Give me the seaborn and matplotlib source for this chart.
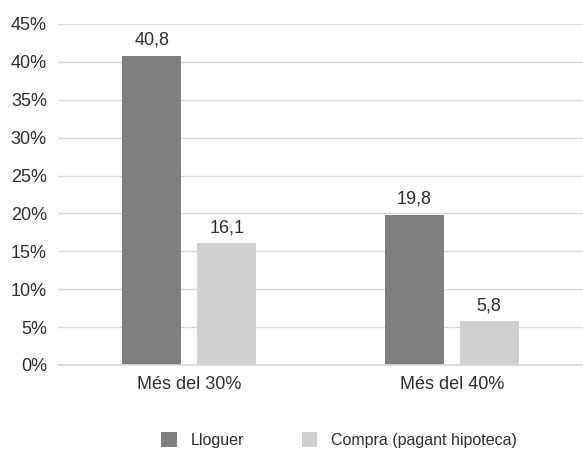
import matplotlib
matplotlib.use("Agg")
import matplotlib.pyplot as plt
import seaborn as sns
import pandas as pd

categories = ["Més del 30%", "Més del 40%"]
series_names = ["Lloguer", "Compra (pagant hipoteca)"]
lloguer = [40.8, 19.8]
compra = [16.1, 5.8]
colors = ["#7f7f7f", "#d0d0d0"]

df = pd.DataFrame({
    "cat": categories * 2,
    "serie": [series_names[0]] * 2 + [series_names[1]] * 2,
    "val": lloguer + compra,
})

sns.set_theme(style="white")
plt.rcParams["font.family"] = ["Liberation Sans", "DejaVu Sans"]
txt = "#2e2e2e"

fig = plt.figure(figsize=(5.83, 4.5), dpi=100)
ax = fig.add_axes([0.0995, 0.189, 0.9005, 0.7577])
sns.barplot(data=df, x="cat", y="val", hue="serie", palette=colors,
            width=0.57, gap=0.21, ax=ax, legend=True, saturation=1, linewidth=0)

ax.set_ylim(0, 45)
ax.set_xlim(-0.5, 1.5)
ax.set_yticks(range(0, 50, 5))
ax.set_yticklabels([f"{v}%" for v in range(0, 50, 5)])
ax.yaxis.grid(True, color="#d9d9d9", linewidth=1)
ax.set_axisbelow(True)
for s in ["top", "right", "left"]:
    ax.spines[s].set_visible(False)
ax.spines["bottom"].set_color("#d9d9d9")
ax.set_xlabel("")
ax.set_ylabel("")
ax.tick_params(axis="y", length=0, labelsize=13, labelcolor=txt, pad=8)
ax.tick_params(axis="x", length=0, labelsize=13, labelcolor=txt, pad=8)

for cont in ax.containers:
    ax.bar_label(cont, labels=[f"{v:.1f}".replace(".", ",") for v in cont.datavalues],
                 padding=5, fontsize=13, color=txt)

handles, labels = ax.get_legend_handles_labels()
ax.legend(handles, labels, loc="center", bbox_to_anchor=(0.582, 0.022), bbox_transform=fig.transFigure,
          ncol=2, frameon=False, fontsize=11.5, handlelength=0.95, handleheight=1.1,
          columnspacing=3.6, handletextpad=0.9, labelcolor=txt)

fig.savefig("out.png", dpi=100)
